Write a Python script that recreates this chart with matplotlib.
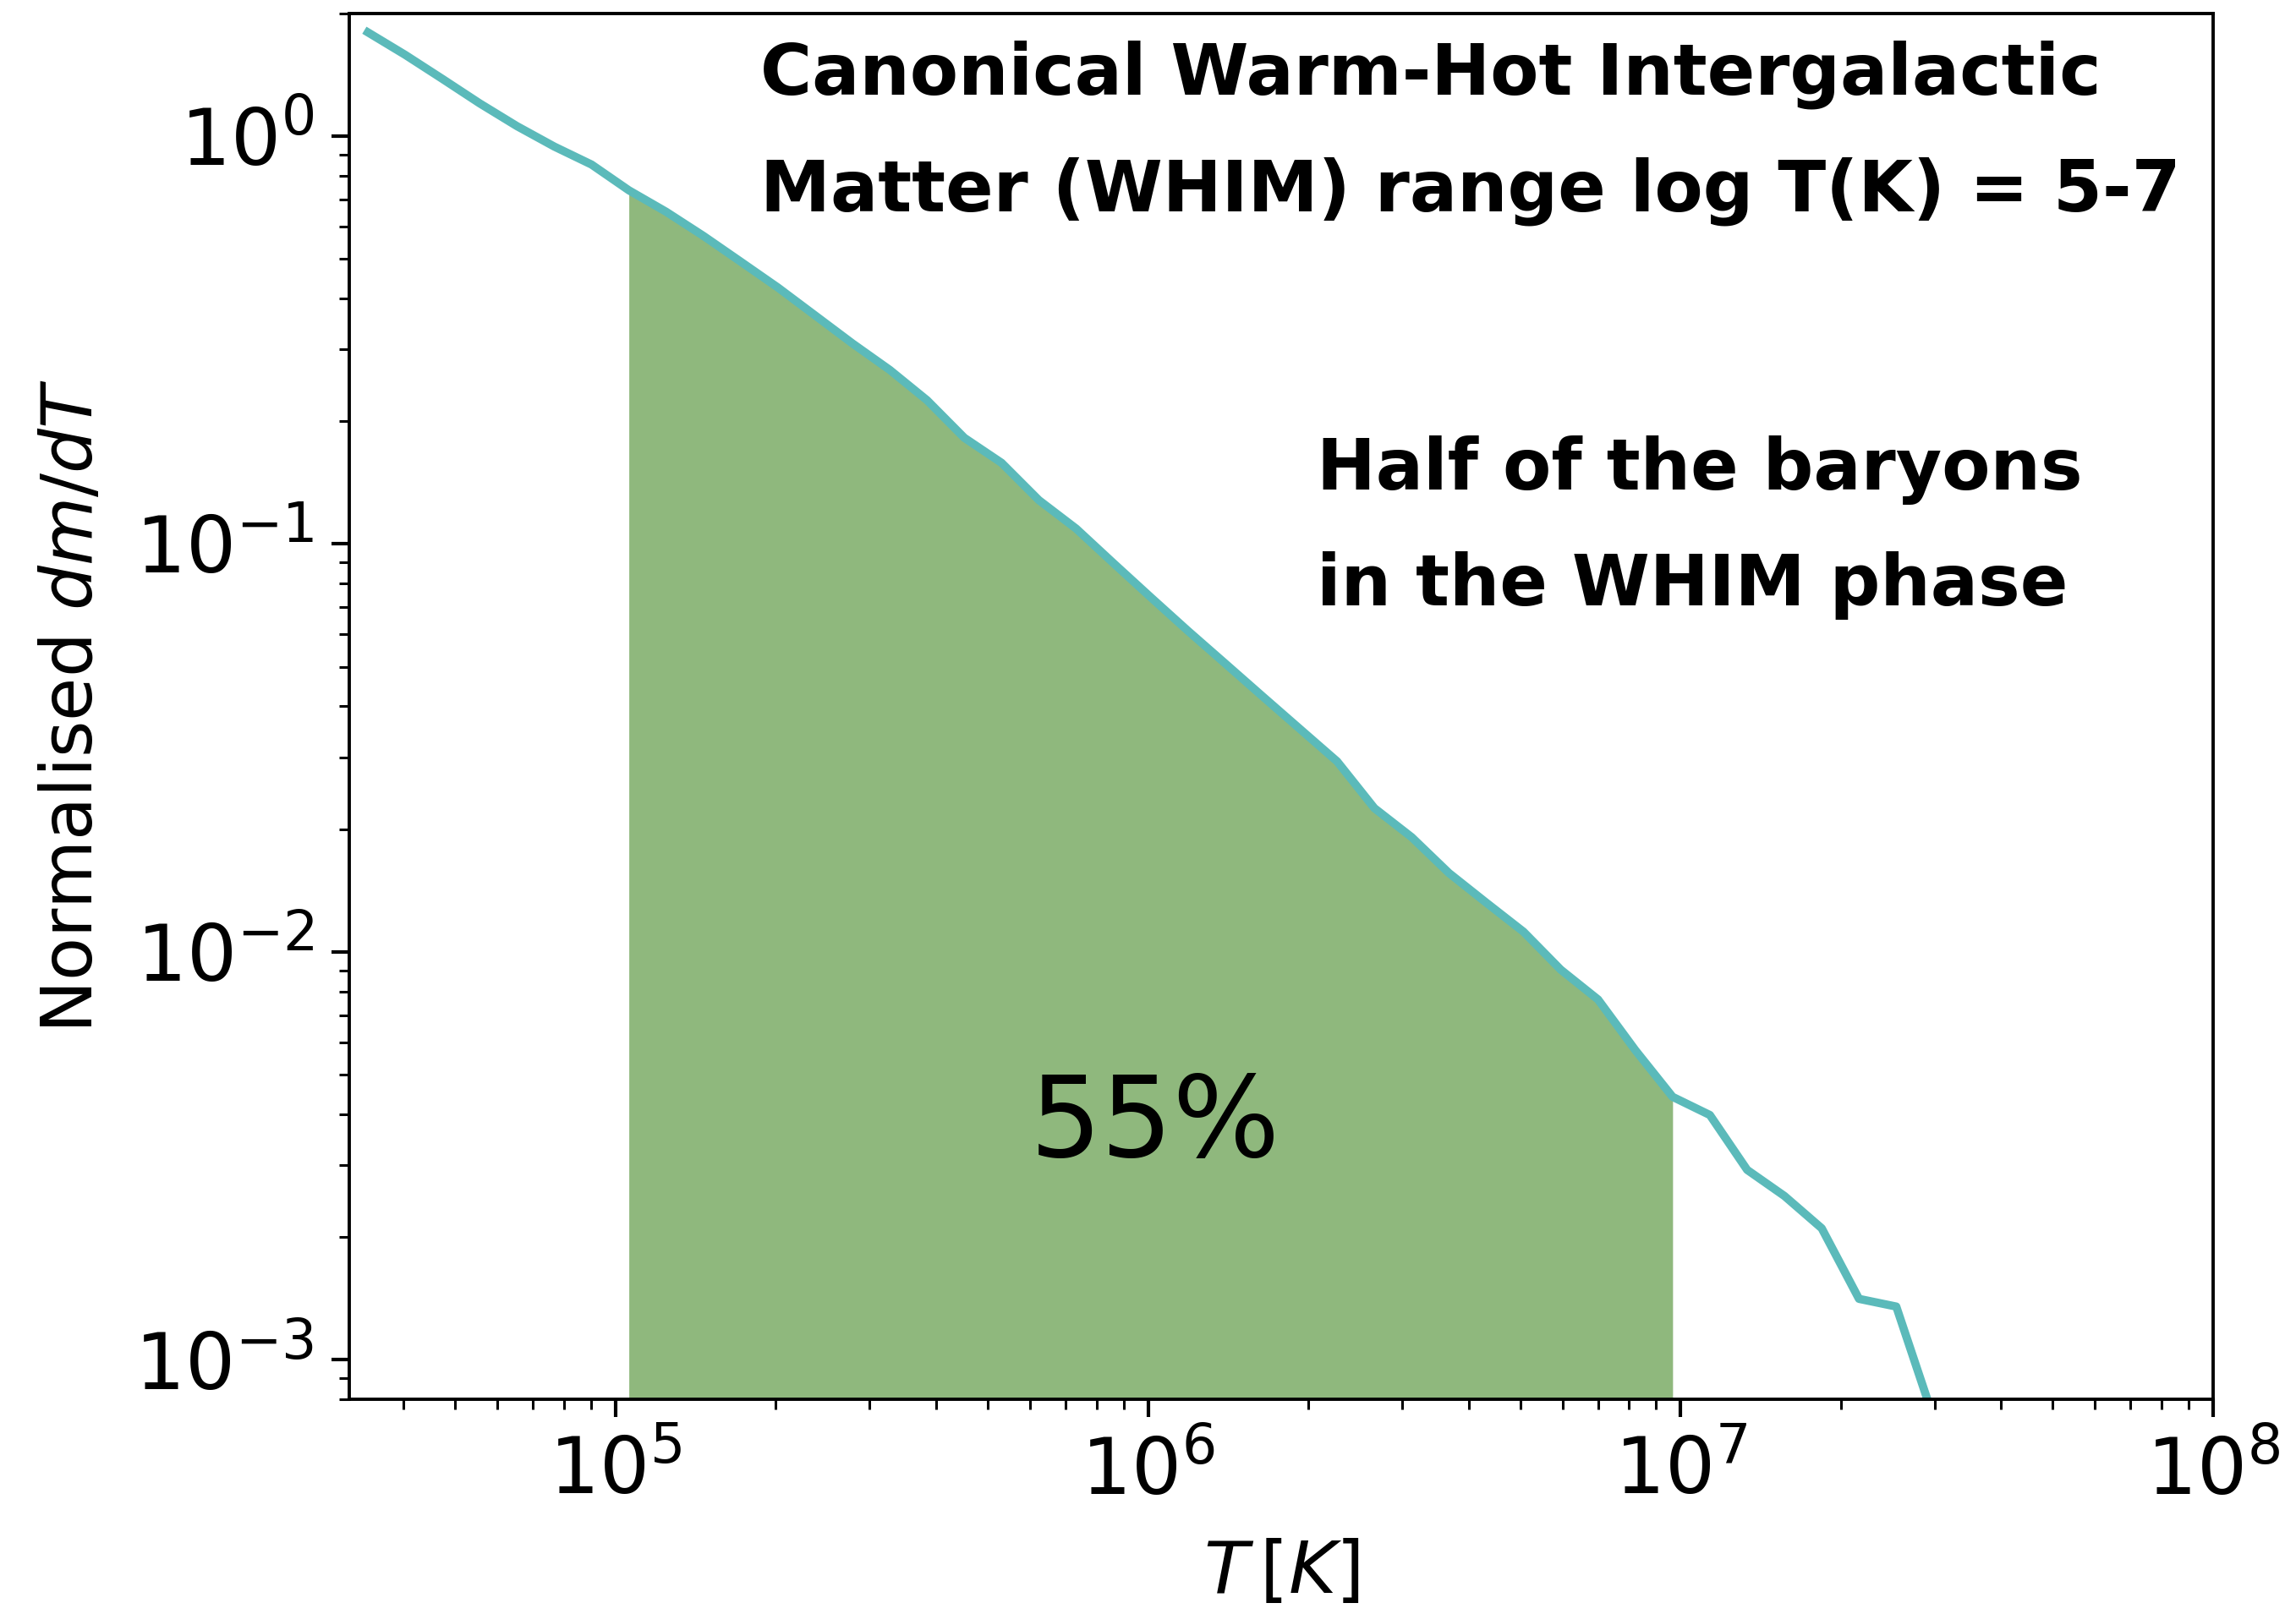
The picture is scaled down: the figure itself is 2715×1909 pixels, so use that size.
import matplotlib
matplotlib.use('Agg')
import matplotlib.pyplot as plt
import numpy as np

# bin centres (log10 T) and normalised dm/dT read for each bin
log_T = [4.535, 4.605, 4.675, 4.745, 4.815, 4.885, 4.955, 5.025, 5.095, 5.165,
         5.235, 5.305, 5.375, 5.445, 5.515, 5.585, 5.655, 5.725, 5.795, 5.865,
         5.935, 6.005, 6.075, 6.145, 6.215, 6.285, 6.355, 6.425, 6.495, 6.565,
         6.635, 6.705, 6.775, 6.845, 6.915, 6.985, 7.055, 7.125, 7.195, 7.265,
         7.335, 7.405, 7.475]
dmdT = [1.795, 1.581, 1.380, 1.202, 1.057, 0.942, 0.851, 0.736, 0.652, 0.569,
        0.492, 0.425, 0.363, 0.310, 0.267, 0.225, 0.182, 0.158, 0.128, 0.109,
        0.0897, 0.0740, 0.0612, 0.0509, 0.0423, 0.0352, 0.0293, 0.0225, 0.0191, 0.0156,
        0.0132, 0.0112, 0.00904, 0.00764, 0.00574, 0.00441, 0.00398, 0.00292, 0.00252, 0.00210,
        0.00141, 0.00135, 0.00072]

# WHIM temperature window and the baryon fraction inside it
whim_lo = 1e5
whim_hi = 1e7
whim_frac = 55

T = 10 ** np.array(log_T)
y = np.array(dmdT)

fig = plt.figure(figsize=(27.15, 19.09), dpi=100)
ax = fig.add_axes([413 / 2715, 1 - 1655 / 1909, (2617 - 413) / 2715, (1655 - 15.6) / 1909])

inside = (T >= whim_lo) & (T <= whim_hi)
ax.fill_between(T[inside], y[inside], 1e-4, color='#8fb87d', linewidth=0, zorder=1)
ax.plot(T, y, color='#5bbaba', linewidth=7, zorder=2)

ax.set_xscale('log')
ax.set_yscale('log')
ax.set_xlim(10 ** 4.5, 1e8)
ax.set_ylim(8e-4, 2)

for s in ax.spines.values():
    s.set_linewidth(2.8)
ax.tick_params(which='major', length=15, width=3.0, labelsize=67, pad=15)
ax.tick_params(which='minor', length=8.6, width=2.2)

ax.set_xlabel(r'$T\,[K]$', fontsize=62)
ax.set_ylabel(r'Normalised $dm/dT$', fontsize=60)
ax.xaxis.set_label_coords(0.5, -0.1)
ax.yaxis.set_label_coords(-0.13, 0.5)

bold = dict(fontsize=60, fontweight='bold', family='DejaVu Sans', va='baseline',
            transform=ax.transAxes)
ax.text(0.2206, 0.9418, 'Canonical Warm-Hot Intergalactic', **bold)
ax.text(0.2206, 0.8576, 'Matter (WHIM) range log T(K) = 5-7', **bold)
ax.text(0.5190, 0.6566, 'Half of the baryons', **bold)
ax.text(0.5190, 0.5728, 'in the WHIM phase', **bold)

ax.text(0.3650, 0.1751, '%d%%' % whim_frac, fontsize=96, va='baseline',
        transform=ax.transAxes)

fig.savefig('out.png', dpi=100)
